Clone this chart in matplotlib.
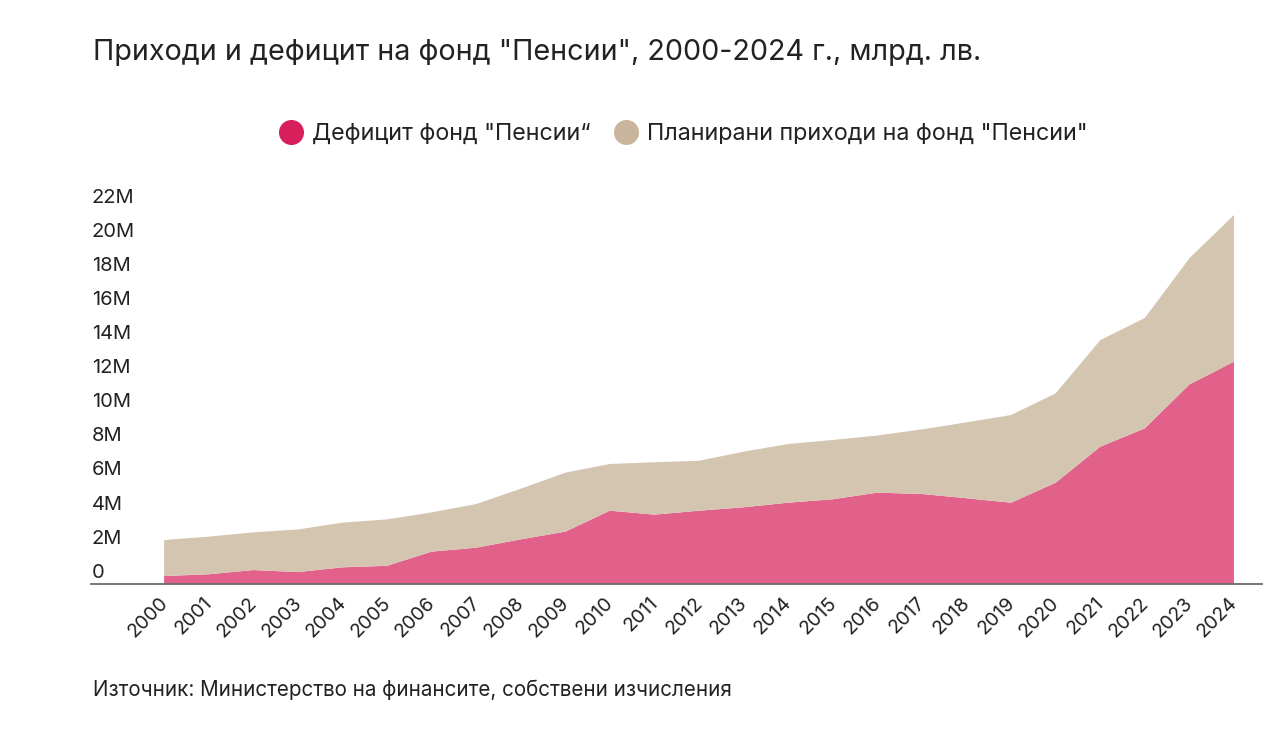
import matplotlib
matplotlib.use("Agg")
from matplotlib import pyplot as plt
from matplotlib.lines import Line2D
from matplotlib import transforms

years = list(range(2000, 2025))
deficit = [0.47, 0.57, 0.82, 0.70, 0.98, 1.07, 1.90, 2.13, 2.62, 3.07,
           4.30, 4.07, 4.30, 4.50, 4.77, 4.97, 5.36, 5.28, 5.03, 4.77,
           5.94, 8.05, 9.13, 11.70, 13.04]
revenues = [2.11, 2.21, 2.21, 2.50, 2.62, 2.72, 2.30, 2.56, 2.97, 3.46,
            2.74, 3.07, 2.93, 3.26, 3.44, 3.48, 3.35, 3.79, 4.45, 5.14,
            5.24, 6.25, 6.47, 7.40, 8.60]
y_ticks = list(range(0, 23, 2))
y_labels = ["0"] + [f"{v}M" for v in y_ticks[1:]]

title = 'Приходи и дефицит на фонд "Пенсии", 2000-2024 г., млрд. лв.'
series_names = ['Дефицит фонд "Пенсии“', 'Планирани приходи на фонд "Пенсии"']
source = "Източник: Министерство на финансите, собствени изчисления"

plt.rcParams["font.family"] = ["Inter", "DejaVu Sans"]

area_colors = ["#E2618B", "#D4C5B1"]
legend_colors = ["#D81E5B", "#C9B59C"]
text_color = "#222222"


def main():
    fig = plt.figure(figsize=(12.78, 7.35), dpi=100)
    ax = fig.add_axes([0.0712, 0.2054, 0.9163, 0.5197])

    ax.stackplot(years, deficit, revenues, colors=area_colors, linewidth=0)

    ax.set_xlim(1998.36, 2024.63)
    ax.set_ylim(0, 22.4)

    for s in ["top", "right", "left"]:
        ax.spines[s].set_visible(False)
    ax.spines["bottom"].set_color("#6b6b6b")
    ax.spines["bottom"].set_linewidth(1.3)

    # y labels sit just above their (invisible) grid lines
    ax.set_yticks([])
    trans = transforms.offset_copy(
        transforms.blended_transform_factory(ax.transAxes, ax.transData),
        fig=fig, x=0, y=4.5, units="points")
    for v, lab in zip(y_ticks, y_labels):
        ax.text(0.0005, v, lab, transform=trans, ha="left", va="baseline",
                fontsize=14.5, color=text_color)

    ax.set_xticks(years)
    ax.set_xticklabels([str(y) for y in years], rotation=45, ha="right",
                       rotation_mode="anchor", fontsize=14, color=text_color)
    ax.tick_params(axis="x", length=0, pad=7)
    shift = transforms.ScaledTranslation(-4 / 72, 0, fig.dpi_scale_trans)
    for lbl in ax.get_xticklabels():
        lbl.set_transform(lbl.get_transform() + shift)

    fig.text(0.0728, 0.929, title, ha="left", va="center",
             fontsize=20.7, color=text_color)

    handles = [Line2D([], [], linestyle="none", marker="o", markersize=17,
                      markerfacecolor=c, markeredgecolor=c) for c in legend_colors]
    fig.legend(handles, series_names, loc="center", bbox_to_anchor=(0.534, 0.818),
               ncol=2, frameon=False, fontsize=16.8, handletextpad=0.3,
               columnspacing=0.9, handlelength=1.2, labelcolor=text_color)

    fig.text(0.0728, 0.061, source, ha="left", va="center",
             fontsize=14.85, color=text_color)

    fig.savefig("out.png", dpi=100)


if __name__ == "__main__":
    main()
